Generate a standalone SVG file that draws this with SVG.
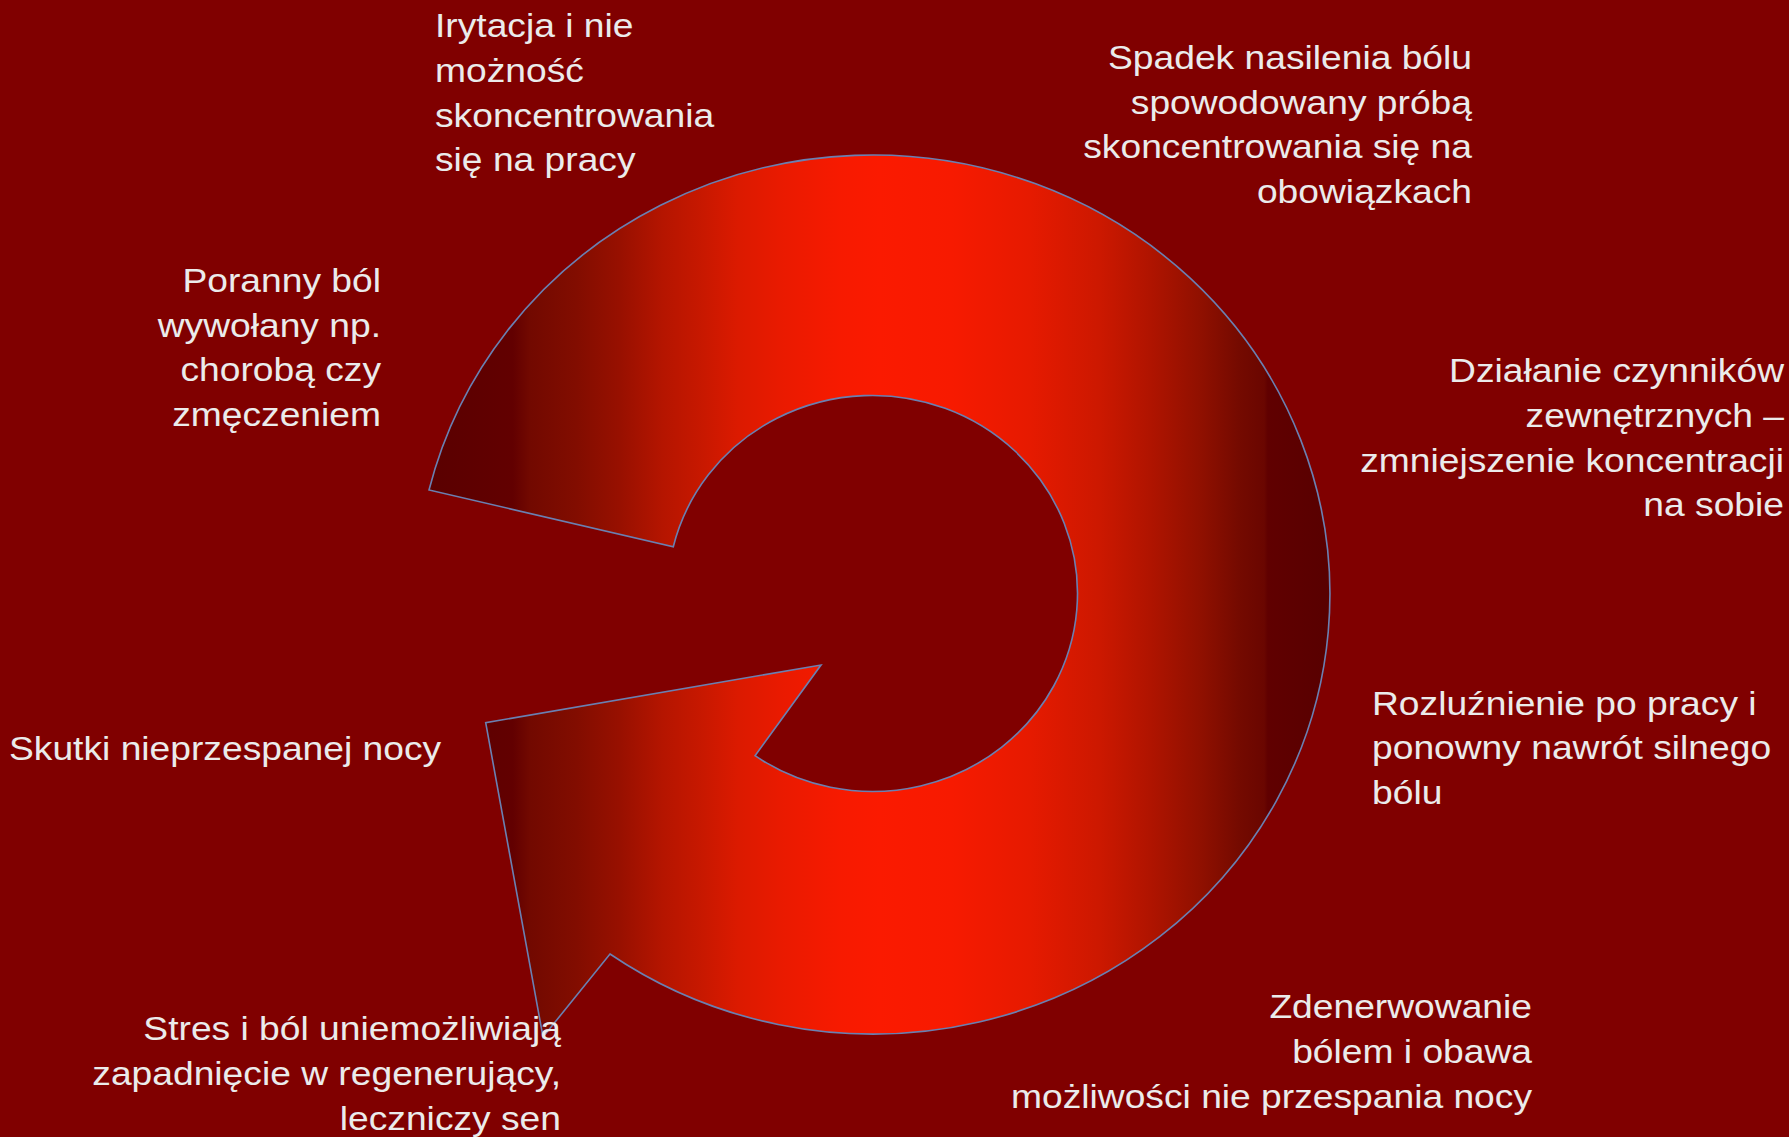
<svg xmlns="http://www.w3.org/2000/svg" width="1789" height="1137" viewBox="0 0 1789 1137">
  <defs>
    <linearGradient id="ringGrad" gradientUnits="userSpaceOnUse" x1="429" y1="0" x2="1330" y2="0">
      <stop offset="0" stop-color="#5a0000"/>
      <stop offset="0.093" stop-color="#620000"/>
      <stop offset="0.112" stop-color="#720900"/>
      <stop offset="0.164" stop-color="#820d00"/>
      <stop offset="0.212" stop-color="#981000"/>
      <stop offset="0.26" stop-color="#b51500"/>
      <stop offset="0.304" stop-color="#c81800"/>
      <stop offset="0.342" stop-color="#db1a00"/>
      <stop offset="0.393" stop-color="#ea1a00"/>
      <stop offset="0.456" stop-color="#f71a00"/>
      <stop offset="0.5" stop-color="#fb1a00"/>
      <stop offset="0.58" stop-color="#f71a00"/>
      <stop offset="0.667" stop-color="#e61a00"/>
      <stop offset="0.745" stop-color="#cc1800"/>
      <stop offset="0.80" stop-color="#b01400"/>
      <stop offset="0.856" stop-color="#901000"/>
      <stop offset="0.90" stop-color="#740a00"/>
      <stop offset="0.927" stop-color="#6a0600"/>
      <stop offset="0.931" stop-color="#600000"/>
      <stop offset="1" stop-color="#580000"/>
    </linearGradient>
  </defs>
  <style>
    .lbl { font-family: "Liberation Sans", Arial, sans-serif; font-size: 32.5px; fill: #ebebeb; }
    .end { text-anchor: end; }
    .ring { fill: url(#ringGrad); stroke: #6a80b2; stroke-width: 1.6; stroke-linejoin: miter; }
  </style>
  <rect x="0" y="0" width="1789" height="1137" fill="#800000"/>

  <g id="cycle-arrow">
    <path class="ring" d="M 429 490 A 457 439.5 0 1 1 610 954 L 543 1037 L 485.7 722.7 L 821 665 L 755 755.7 A 205 198 0 1 0 673.3 546.7 Z"/>
  </g>

  <g id="connectors"></g>

  <g id="label-irytacja" transform="translate(435,0) scale(1.145,1)">
    <text class="lbl" x="0" y="37.3">Irytacja i nie</text>
    <text class="lbl" x="0" y="82">możność</text>
    <text class="lbl" x="0" y="126.7">skoncentrowania</text>
    <text class="lbl" x="0" y="171.4">się na pracy</text>
  </g>

  <g id="label-spadek" transform="translate(1472,0) scale(1.145,1)">
    <text class="lbl end" x="0" y="69">Spadek nasilenia bólu</text>
    <text class="lbl end" x="0" y="113.7">spowodowany próbą</text>
    <text class="lbl end" x="0" y="158.4">skoncentrowania się na</text>
    <text class="lbl end" x="0" y="203.1">obowiązkach</text>
  </g>

  <g id="label-dzialanie" transform="translate(1784,0) scale(1.145,1)">
    <text class="lbl end" x="0" y="382.3">Działanie czynników</text>
    <text class="lbl end" x="0" y="427">zewnętrznych –</text>
    <text class="lbl end" x="0" y="471.7">zmniejszenie koncentracji</text>
    <text class="lbl end" x="0" y="516.4">na sobie</text>
  </g>

  <g id="label-rozluznienie" transform="translate(1372,0) scale(1.145,1)">
    <text class="lbl" x="0" y="715">Rozluźnienie po pracy i</text>
    <text class="lbl" x="0" y="759.5">ponowny nawrót silnego</text>
    <text class="lbl" x="0" y="804">bólu</text>
  </g>

  <g id="label-zdenerwowanie" transform="translate(1532,0) scale(1.145,1)">
    <text class="lbl end" x="0" y="1018.5">Zdenerwowanie</text>
    <text class="lbl end" x="0" y="1063.5">bólem i obawa</text>
    <text class="lbl end" x="0" y="1108.5">możliwości nie przespania nocy</text>
  </g>

  <g id="label-stres" transform="translate(561,0) scale(1.145,1)">
    <text class="lbl end" x="0" y="1040.5">Stres i ból uniemożliwiają</text>
    <text class="lbl end" x="0" y="1085.2">zapadnięcie w regenerujący,</text>
    <text class="lbl end" x="0" y="1129.9">leczniczy sen</text>
  </g>

  <g id="label-skutki" transform="translate(9,0) scale(1.145,1)">
    <text class="lbl" x="0" y="760">Skutki nieprzespanej nocy</text>
  </g>

  <g id="label-poranny" transform="translate(381,0) scale(1.145,1)">
    <text class="lbl end" x="0" y="292.3">Poranny ból</text>
    <text class="lbl end" x="0" y="336.8">wywołany np.</text>
    <text class="lbl end" x="0" y="381.3">chorobą czy</text>
    <text class="lbl end" x="0" y="425.8">zmęczeniem</text>
  </g>
</svg>
